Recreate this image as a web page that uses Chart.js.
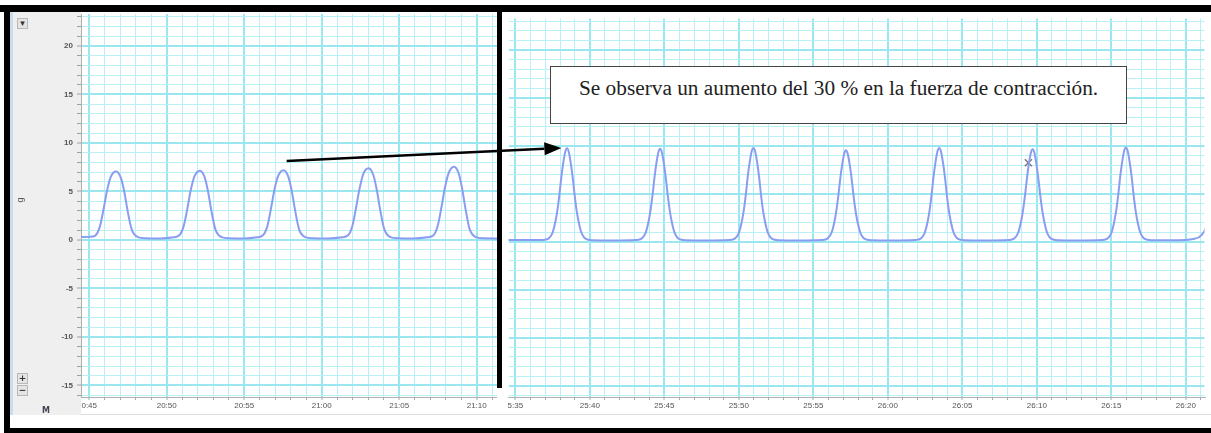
<!DOCTYPE html>
<html>
<head>
<meta charset="utf-8">
<script src="https://cdn.jsdelivr.net/npm/chart.js@4.4.1/dist/chart.umd.min.js"></script>
<style>
body { margin: 0; width: 1211px; height: 433px; background: #fff; position: relative; overflow: hidden; font-family: "Liberation Sans", Arial, sans-serif; }
.abs { position: absolute; }
.blk { position: absolute; background: #000; }
.btn { position: absolute; width: 9px; height: 9px; background: #e4e4e4; border: 1px solid #b8b8b8; font: bold 9px "DejaVu Sans", sans-serif; color: #333; text-align: center; line-height: 9px; }
#nota { position: absolute; left: 550px; top: 66px; width: 547px; height: 47px; padding: 9px 0 0 28px; border: 1px solid #444; background: #fff; font: 21.3px "Liberation Serif", "Times New Roman", serif; color: #222; line-height: 24px; white-space: nowrap; z-index: 5; }
</style>
</head>
<body>

<div class="abs" style="left:10px;top:12px;width:71px;height:403px;background:#efefef"></div>
<div class="abs" style="left:10px;top:12px;width:3px;height:403px;background:#c9dcf0"></div>
<div class="abs" style="left:81px;top:414px;width:1130px;height:1px;background:#dcdcdc"></div>

<canvas id="izq" class="abs" width="487" height="403" style="left:10px;top:12px"></canvas>
<canvas id="der" class="abs" width="709" height="403" style="left:502px;top:12px"></canvas>

<div class="btn" style="left:17px;top:18px">&#9662;</div>
<div class="btn" style="left:17px;top:373px">+</div>
<div class="btn" style="left:17px;top:385px">&minus;</div>
<div class="abs" style="left:17px;top:195px;font-size:9px;color:#555;transform:rotate(-90deg)">g</div>
<div class="abs" style="left:42px;top:406px;font:bold 8px 'DejaVu Sans',sans-serif;color:#445">M</div>

<div class="blk" style="left:0;top:5px;width:1211px;height:7px"></div>
<div class="blk" style="left:4px;top:5px;width:6px;height:428px"></div>
<div class="blk" style="left:4px;top:428px;width:1207px;height:5px"></div>
<div class="blk" style="left:497px;top:8px;width:5px;height:380px;z-index:4"></div>

<div id="nota">Se observa un aumento del 30 % en la fuerza de contracción.</div>

<canvas id="flecha" class="abs" width="1211" height="433" style="left:0;top:0;z-index:6"></canvas>

<script>
// registro 1 (antes) - tiempo en segundos (20:45 = 1245)
var tiempoIzq = [1244.4,
  1245.04, 1245.39, 1245.69, 1245.94, 1246.14, 1246.39, 1246.74, 1247.04, 1247.26, 1247.49, 1247.74, 1248.14, 1248.64, 1249.6,
  1250.44, 1250.79, 1251.09, 1251.34, 1251.54, 1251.79, 1252.14, 1252.44, 1252.66, 1252.89, 1253.14, 1253.54, 1254.04, 1255.0,
  1255.84, 1256.19, 1256.49, 1256.74, 1256.94, 1257.19, 1257.54, 1257.84, 1258.06, 1258.29, 1258.54, 1258.94, 1259.44, 1260.4,
  1261.33, 1261.68, 1261.98, 1262.23, 1262.43, 1262.68, 1263.03, 1263.33, 1263.55, 1263.78, 1264.03, 1264.43, 1264.93, 1265.9,
  1266.84, 1267.19, 1267.49, 1267.74, 1267.94, 1268.19, 1268.54, 1268.84, 1269.06, 1269.29, 1269.54, 1269.94, 1270.44, 1271.4];
var fuerzaIzq = [0.3,
  0.32, 0.45, 1.4, 3.3, 5.0, 6.5, 7.05, 6.4, 5.0, 2.9, 1.1, 0.3, 0.18, 0.16,
  0.28, 0.45, 1.4, 3.3, 5.05, 6.55, 7.15, 6.5, 5.05, 2.95, 1.1, 0.3, 0.18, 0.16,
  0.28, 0.45, 1.4, 3.35, 5.1, 6.6, 7.2, 6.55, 5.1, 3.0, 1.1, 0.3, 0.18, 0.16,
  0.28, 0.45, 1.45, 3.45, 5.2, 6.8, 7.4, 6.7, 5.2, 3.05, 1.15, 0.3, 0.18, 0.16,
  0.28, 0.45, 1.5, 3.5, 5.3, 6.9, 7.55, 6.85, 5.3, 3.1, 1.15, 0.3, 0.18, 0.16];

// registro 2 (despues) - 25:35 = 1535
var tiempoDer = [1534.4,
  1536.87, 1537.22, 1537.47, 1537.59, 1537.72, 1537.85, 1537.97, 1538.09, 1538.22, 1538.35, 1538.47, 1538.59, 1538.72, 1538.85, 1538.97, 1539.09, 1539.22, 1539.35, 1539.47, 1539.72, 1540.17, 1541.5,
  1543.12, 1543.47, 1543.72, 1543.84, 1543.97, 1544.10, 1544.22, 1544.34, 1544.47, 1544.60, 1544.72, 1544.84, 1544.97, 1545.10, 1545.22, 1545.34, 1545.47, 1545.60, 1545.72, 1545.97, 1546.42, 1547.8,
  1549.38, 1549.73, 1549.98, 1550.10, 1550.23, 1550.36, 1550.48, 1550.60, 1550.73, 1550.86, 1550.98, 1551.10, 1551.23, 1551.36, 1551.48, 1551.60, 1551.73, 1551.86, 1551.98, 1552.23, 1552.68, 1554.0,
  1555.59, 1555.94, 1556.19, 1556.31, 1556.44, 1556.57, 1556.69, 1556.81, 1556.94, 1557.07, 1557.19, 1557.31, 1557.44, 1557.57, 1557.69, 1557.81, 1557.94, 1558.07, 1558.19, 1558.44, 1558.89, 1560.3,
  1561.85, 1562.20, 1562.45, 1562.57, 1562.70, 1562.83, 1562.95, 1563.07, 1563.20, 1563.33, 1563.45, 1563.57, 1563.70, 1563.83, 1563.95, 1564.07, 1564.20, 1564.33, 1564.45, 1564.70, 1565.15, 1566.5,
  1568.12, 1568.47, 1568.72, 1568.84, 1568.97, 1569.10, 1569.22, 1569.34, 1569.47, 1569.60, 1569.72, 1569.84, 1569.97, 1570.10, 1570.22, 1570.34, 1570.47, 1570.60, 1570.72, 1570.97, 1571.42, 1572.8,
  1574.38, 1574.73, 1574.98, 1575.10, 1575.23, 1575.36, 1575.48, 1575.60, 1575.73, 1575.86, 1575.98, 1576.10, 1576.23, 1576.36, 1576.48, 1576.60, 1576.73, 1576.86, 1576.98, 1577.23, 1577.68, 1579.5,
  1580.5, 1580.9, 1581.2, 1581.5];
var fuerzaDer = [0.2,
  0.2, 0.33, 0.85, 1.45, 2.35, 3.6, 5.1, 6.8, 8.3, 9.4, 9.75, 9.35, 8.2, 6.7, 5.0, 3.5, 2.3, 1.4, 0.82, 0.3, 0.17, 0.15,
  0.2, 0.33, 0.85, 1.45, 2.35, 3.6, 5.05, 6.75, 8.25, 9.35, 9.7, 9.3, 8.15, 6.65, 4.95, 3.5, 2.3, 1.4, 0.82, 0.3, 0.17, 0.15,
  0.2, 0.33, 0.85, 1.45, 2.35, 3.6, 5.1, 6.85, 8.35, 9.45, 9.8, 9.4, 8.25, 6.75, 5.0, 3.5, 2.3, 1.4, 0.82, 0.3, 0.17, 0.15,
  0.2, 0.33, 0.85, 1.4, 2.3, 3.55, 5.0, 6.65, 8.1, 9.2, 9.55, 9.15, 8.05, 6.55, 4.9, 3.45, 2.25, 1.4, 0.8, 0.3, 0.17, 0.15,
  0.2, 0.33, 0.85, 1.45, 2.35, 3.6, 5.1, 6.85, 8.35, 9.45, 9.8, 9.4, 8.25, 6.75, 5.0, 3.5, 2.3, 1.4, 0.82, 0.3, 0.17, 0.15,
  0.2, 0.33, 0.85, 1.45, 2.35, 3.6, 5.05, 6.7, 8.2, 9.3, 9.65, 9.25, 8.1, 6.6, 4.95, 3.5, 2.3, 1.4, 0.82, 0.3, 0.17, 0.15,
  0.2, 0.33, 0.85, 1.45, 2.4, 3.65, 5.15, 6.9, 8.4, 9.5, 9.85, 9.45, 8.3, 6.8, 5.05, 3.55, 2.3, 1.4, 0.82, 0.3, 0.17, 0.16,
  0.3, 0.5, 1.0, 2.0];

var ticksIzq = [1245, 1250, 1255, 1260, 1265, 1270];
var etiquetasIzq = ["0:45", "20:50", "20:55", "21:00", "21:05", "21:10"];
var ticksDer = [1535, 1540, 1545, 1550, 1555, 1560, 1565, 1570, 1575, 1580];
var etiquetasDer = ["5:35", "25:40", "25:45", "25:50", "25:55", "26:00", "26:05", "26:10", "26:15", "26:20"];
var ticksY = [20, 15, 10, 5, 0, -5, -10, -15];

var marcaX = [1569.43];
var marcaY = [8.25];
var flechaDesde = [1257.74, 8.14];
var flechaHasta = [1538.09, 9.79];

var colorLinea = "#8a9df0";
var gridMayor = "#9be7ef";
var gridMenor = "#b9f0f5";

function puntos(xs, ys) {
    var d = [];
    for (var i = 0; i < xs.length; i++) {
        d.push({ x: xs[i], y: ys[i] });
    }
    return d;
}

function ticksEnteros(scale) {
    var t = [];
    for (var v = Math.ceil(scale.min); v <= Math.floor(scale.max); v++) {
        t.push({ value: v });
    }
    scale.ticks = t;
}

function esMayor(ctx) {
    var v = ctx.tick ? Math.round(ctx.tick.value) : 1;
    return v % 5 == 0;
}

function crearGrafico(id, datasets, xMin, xMax, valores, etiquetas, conEje) {
    var grid = {
        color: function (ctx) { return esMayor(ctx) ? gridMayor : gridMenor; },
        lineWidth: function (ctx) { return esMayor(ctx) ? 2 : 1; }
    };
    return new Chart(document.getElementById(id), {
        type: 'line',
        data: { datasets: datasets },
        options: {
            responsive: false,
            animation: false,
            devicePixelRatio: 1,
            layout: { padding: { top: 2, left: 0, right: 0, bottom: 0 } },
            plugins: { legend: { display: false }, tooltip: { enabled: false } },
            scales: {
                x: {
                    type: 'linear',
                    min: xMin,
                    max: xMax,
                    afterBuildTicks: ticksEnteros,
                    afterFit: function (s) { s.height = 18; s.paddingLeft = 0; s.paddingRight = 0; },
                    border: { color: '#b0b0b0' },
                    grid: { color: grid.color, lineWidth: grid.lineWidth, tickColor: '#a8a8a8', tickWidth: 1, tickLength: 3 },
                    ticks: {
                        autoSkip: false, maxRotation: 0, padding: 1,
                        color: '#555', font: { family: 'Liberation Sans', size: 8 },
                        callback: function (v) {
                            var i = valores.indexOf(v);
                            return i >= 0 ? etiquetas[i] : '';
                        }
                    }
                },
                y: {
                    min: -16.19,
                    max: 23.3,
                    afterBuildTicks: ticksEnteros,
                    afterFit: function (s) { s.width = conEje ? 71 : 0; s.paddingTop = 0; s.paddingBottom = 0; },
                    border: { display: conEje, color: '#b0b0b0' },
                    grid: { color: grid.color, lineWidth: grid.lineWidth, tickColor: '#a0a0a0', tickWidth: 1, tickLength: 4, drawTicks: conEje },
                    ticks: {
                        display: conEje, autoSkip: false, padding: 4,
                        color: '#555', font: { family: 'Liberation Sans', size: 8, weight: 'bold' },
                        callback: function (v) { return ticksY.indexOf(v) >= 0 ? String(v) : ''; }
                    }
                }
            }
        }
    });
}

var serieIzq = {
    data: puntos(tiempoIzq, fuerzaIzq),
    borderColor: colorLinea, borderWidth: 2, pointRadius: 0,
    cubicInterpolationMode: 'monotone', fill: false
};
var serieDer = {
    data: puntos(tiempoDer, fuerzaDer),
    borderColor: colorLinea, borderWidth: 2, pointRadius: 0,
    cubicInterpolationMode: 'monotone', fill: false
};
var serieMarca = {
    data: puntos(marcaX, marcaY),
    showLine: false, pointStyle: 'crossRot', pointRadius: 5,
    borderColor: '#7a7a7a', borderWidth: 1.5
};

var graficoIzq = crearGrafico('izq', [serieIzq], 1244.47, 1271.31, ticksIzq, etiquetasIzq, true);
var graficoDer = crearGrafico('der', [serieDer, serieMarca], 1534.54, 1581.25, ticksDer, etiquetasDer, false);

// flecha de la anotacion, de un pico del primer registro a uno del segundo
function dibujarFlecha() {
    var ctx = document.getElementById('flecha').getContext('2d');
    var x1 = 10 + graficoIzq.scales.x.getPixelForValue(flechaDesde[0]);
    var y1 = 12 + graficoIzq.scales.y.getPixelForValue(flechaDesde[1]);
    var x2 = 502 + graficoDer.scales.x.getPixelForValue(flechaHasta[0]);
    var y2 = 12 + graficoDer.scales.y.getPixelForValue(flechaHasta[1]);
    var ang = Math.atan2(y2 - y1, x2 - x1);
    var largo = 17, ancho = 6.5;
    var bx = x2 - largo * Math.cos(ang), by = y2 - largo * Math.sin(ang);

    ctx.strokeStyle = '#000';
    ctx.lineWidth = 2.5;
    ctx.beginPath();
    ctx.moveTo(x1, y1);
    ctx.lineTo(bx, by);
    ctx.stroke();

    ctx.fillStyle = '#000';
    ctx.beginPath();
    ctx.moveTo(x2, y2);
    ctx.lineTo(bx + ancho * Math.sin(ang), by - ancho * Math.cos(ang));
    ctx.lineTo(bx - ancho * Math.sin(ang), by + ancho * Math.cos(ang));
    ctx.closePath();
    ctx.fill();
}
dibujarFlecha();
</script>
</body>
</html>
